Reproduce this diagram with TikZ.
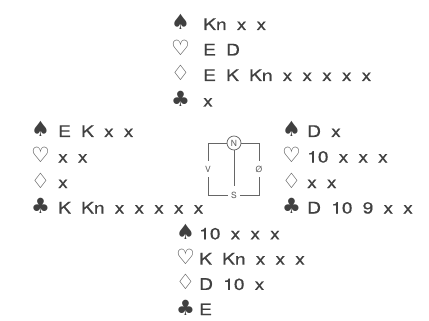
\documentclass[tikz,border=0pt]{standalone}
\usepackage{fontspec}
\setmainfont{TeX Gyre Heros}
\newfontfamily\cardfont[FakeStretch=1.2,WordSpace=1.9,FakeBold=0.6]{TeX Gyre Heros}
\newfontfamily\suitfont{DejaVu Sans}
\usetikzlibrary{positioning}

\tikzset{
  cards/.style={anchor=base west, inner sep=0pt, text=black!75, font=\cardfont\fontsize{16}{18}\selectfont},
  suit/.style={anchor=base west, inner sep=0pt, text=black!75, font=\suitfont\fontsize{21}{22}\selectfont},
  compass/.style={inner sep=0pt, text=black!65, font=\fontsize{8.5}{9}\selectfont},
  frame/.style={draw=black!60, line width=0.75pt}
}

\begin{document}
\begin{tikzpicture}[x=1pt, y=-1pt]
    \useasboundingbox (0,0) rectangle (429,321);

    % North
    \foreach \s/\t [count=\i] in {♠/Kn x x, ♡/E D, ♢/E K Kn x x x x x, ♣/x} {
      \node[suit] (N-s\i) at (171, 4.5+25.5*\i) {\s};
      \node[cards] (N-c\i) at (203, 4.5+25.5*\i) {\t};
    }

    % West
    \foreach \s/\t [count=\i] in {♠/E K x x, ♡/x x, ♢/x, ♣/K Kn x x x x x} {
      \node[suit] (W-s\i) at (31, 111.5+25.5*\i) {\s};
      \node[cards] (W-c\i) at (58, 111.5+25.5*\i) {\t};
    }

    % East
    \foreach \s/\t [count=\i] in {♠/D x, ♡/10 x x x, ♢/x x, ♣/D 10 9 x x} {
      \node[suit] (E-s\i) at (282, 111.5+25.5*\i) {\s};
      \node[cards] (E-c\i) at (307, 111.5+25.5*\i) {\t};
    }

    % South
    \foreach \s/\t [count=\i] in {♠/10 x x x, ♡/K Kn x x x, ♢/D 10 x, ♣/E} {
      \node[suit] (S-s\i) at (176, 214+25.3*\i) {\s};
      \node[cards] (S-c\i) at (199, 214+25.3*\i) {\t};
    }

    % Compass
    \node[compass, circle, draw=black!60, line width=0.75pt, minimum size=14pt] (N) at (234,143) {N};
    \node[compass, minimum height=16pt, minimum width=6pt] (V) at (208,169) {V};
    \node[compass, minimum height=16pt, minimum width=6pt] (O) at (259,169) {Ø};
    \node[compass, minimum width=12pt] (S) at (234,195) {S};
    \coordinate (stem) at (234,186);
    \draw[frame] (N.west) -| (V.north);
    \draw[frame] (V.south) |- (S.west);
    \draw[frame] (S.east) -| (O.south);
    \draw[frame] (O.north) |- (N.east);
    \draw[frame] (N.south) -- (stem);
\end{tikzpicture}
\end{document}
